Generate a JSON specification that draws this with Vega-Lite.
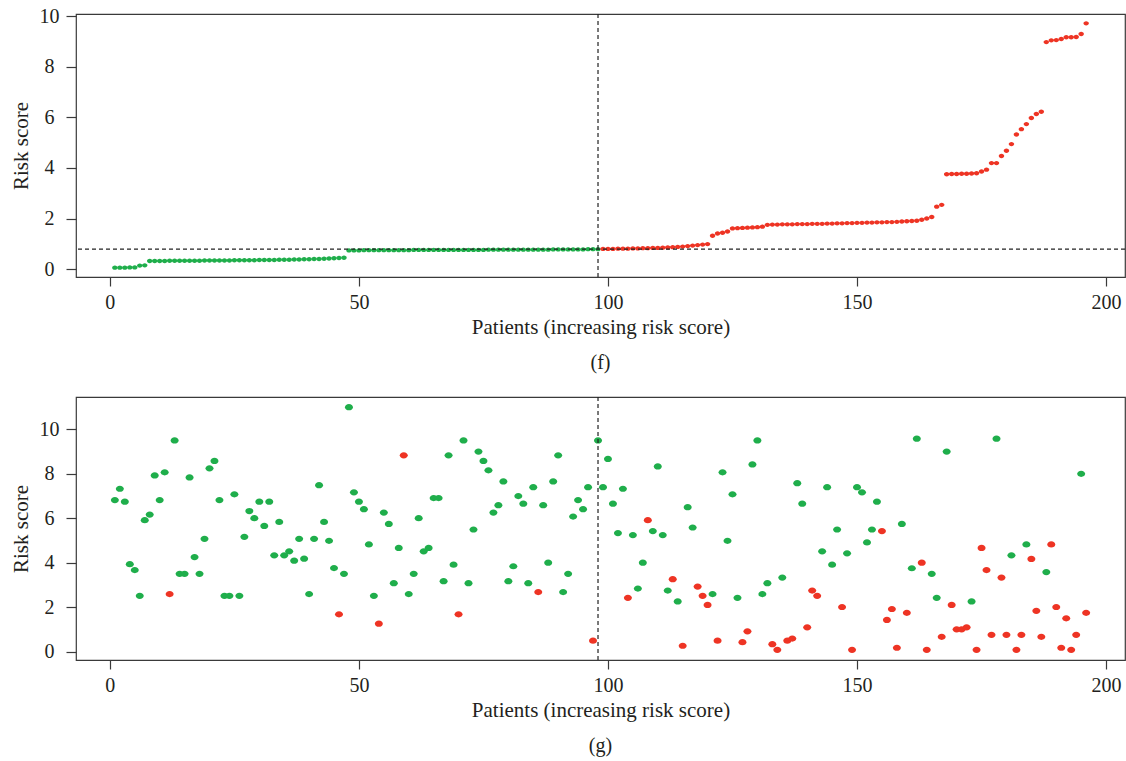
{
  "$schema": "https://vega.github.io/schema/vega-lite/v6.json",
  "padding": {"left": 9, "top": 5, "right": 0, "bottom": 0},
  "spacing": 21,
  "datasets": {
    "sorted": [
      {"i":1,"v":0.06,"g":"low"},{"i":2,"v":0.06,"g":"low"},{"i":3,"v":0.06,"g":"low"},{"i":4,"v":0.07,"g":"low"},{"i":5,"v":0.07,"g":"low"},{"i":6,"v":0.14,"g":"low"},{"i":7,"v":0.15,"g":"low"},
      {"i":8,"v":0.32,"g":"low"},{"i":9,"v":0.32,"g":"low"},{"i":10,"v":0.32,"g":"low"},{"i":11,"v":0.32,"g":"low"},{"i":12,"v":0.33,"g":"low"},{"i":13,"v":0.33,"g":"low"},{"i":14,"v":0.33,"g":"low"},{"i":15,"v":0.33,"g":"low"},{"i":16,"v":0.33,"g":"low"},{"i":17,"v":0.33,"g":"low"},{"i":18,"v":0.33,"g":"low"},{"i":19,"v":0.34,"g":"low"},{"i":20,"v":0.34,"g":"low"},
      {"i":21,"v":0.34,"g":"low"},{"i":22,"v":0.34,"g":"low"},{"i":23,"v":0.34,"g":"low"},{"i":24,"v":0.34,"g":"low"},{"i":25,"v":0.35,"g":"low"},{"i":26,"v":0.35,"g":"low"},{"i":27,"v":0.35,"g":"low"},{"i":28,"v":0.35,"g":"low"},{"i":29,"v":0.35,"g":"low"},{"i":30,"v":0.36,"g":"low"},
      {"i":31,"v":0.36,"g":"low"},{"i":32,"v":0.36,"g":"low"},{"i":33,"v":0.36,"g":"low"},{"i":34,"v":0.37,"g":"low"},{"i":35,"v":0.37,"g":"low"},{"i":36,"v":0.37,"g":"low"},{"i":37,"v":0.38,"g":"low"},{"i":38,"v":0.38,"g":"low"},{"i":39,"v":0.39,"g":"low"},{"i":40,"v":0.39,"g":"low"},
      {"i":41,"v":0.40,"g":"low"},{"i":42,"v":0.40,"g":"low"},{"i":43,"v":0.41,"g":"low"},{"i":44,"v":0.42,"g":"low"},{"i":45,"v":0.43,"g":"low"},{"i":46,"v":0.44,"g":"low"},{"i":47,"v":0.45,"g":"low"},
      {"i":48,"v":0.74,"g":"low"},{"i":49,"v":0.74,"g":"low"},{"i":50,"v":0.74,"g":"low"},
      {"i":51,"v":0.75,"g":"low"},{"i":52,"v":0.75,"g":"low"},{"i":53,"v":0.75,"g":"low"},{"i":54,"v":0.75,"g":"low"},{"i":55,"v":0.75,"g":"low"},{"i":56,"v":0.75,"g":"low"},{"i":57,"v":0.75,"g":"low"},{"i":58,"v":0.75,"g":"low"},{"i":59,"v":0.75,"g":"low"},{"i":60,"v":0.75,"g":"low"},
      {"i":61,"v":0.76,"g":"low"},{"i":62,"v":0.76,"g":"low"},{"i":63,"v":0.76,"g":"low"},{"i":64,"v":0.76,"g":"low"},{"i":65,"v":0.76,"g":"low"},{"i":66,"v":0.76,"g":"low"},{"i":67,"v":0.76,"g":"low"},{"i":68,"v":0.76,"g":"low"},{"i":69,"v":0.76,"g":"low"},{"i":70,"v":0.76,"g":"low"},
      {"i":71,"v":0.76,"g":"low"},{"i":72,"v":0.76,"g":"low"},{"i":73,"v":0.76,"g":"low"},{"i":74,"v":0.76,"g":"low"},{"i":75,"v":0.76,"g":"low"},{"i":76,"v":0.77,"g":"low"},{"i":77,"v":0.77,"g":"low"},{"i":78,"v":0.77,"g":"low"},{"i":79,"v":0.77,"g":"low"},{"i":80,"v":0.77,"g":"low"},
      {"i":81,"v":0.77,"g":"low"},{"i":82,"v":0.77,"g":"low"},{"i":83,"v":0.77,"g":"low"},{"i":84,"v":0.77,"g":"low"},{"i":85,"v":0.77,"g":"low"},{"i":86,"v":0.77,"g":"low"},{"i":87,"v":0.77,"g":"low"},{"i":88,"v":0.77,"g":"low"},{"i":89,"v":0.78,"g":"low"},{"i":90,"v":0.78,"g":"low"},
      {"i":91,"v":0.78,"g":"low"},{"i":92,"v":0.78,"g":"low"},{"i":93,"v":0.78,"g":"low"},{"i":94,"v":0.78,"g":"low"},{"i":95,"v":0.78,"g":"low"},{"i":96,"v":0.79,"g":"low"},{"i":97,"v":0.79,"g":"low"},{"i":98,"v":0.79,"g":"low"},
      {"i":99,"v":0.80,"g":"high"},{"i":100,"v":0.80,"g":"high"},{"i":101,"v":0.80,"g":"high"},{"i":102,"v":0.81,"g":"high"},{"i":103,"v":0.81,"g":"high"},{"i":104,"v":0.81,"g":"high"},{"i":105,"v":0.82,"g":"high"},{"i":106,"v":0.82,"g":"high"},{"i":107,"v":0.83,"g":"high"},{"i":108,"v":0.83,"g":"high"},{"i":109,"v":0.84,"g":"high"},{"i":110,"v":0.84,"g":"high"},
      {"i":111,"v":0.85,"g":"high"},{"i":112,"v":0.86,"g":"high"},{"i":113,"v":0.87,"g":"high"},{"i":114,"v":0.88,"g":"high"},{"i":115,"v":0.89,"g":"high"},{"i":116,"v":0.91,"g":"high"},{"i":117,"v":0.93,"g":"high"},{"i":118,"v":0.95,"g":"high"},{"i":119,"v":0.97,"g":"high"},{"i":120,"v":0.99,"g":"high"},
      {"i":121,"v":1.32,"g":"high"},{"i":122,"v":1.41,"g":"high"},{"i":123,"v":1.44,"g":"high"},{"i":124,"v":1.49,"g":"high"},{"i":125,"v":1.61,"g":"high"},{"i":126,"v":1.62,"g":"high"},{"i":127,"v":1.63,"g":"high"},{"i":128,"v":1.64,"g":"high"},{"i":129,"v":1.65,"g":"high"},{"i":130,"v":1.66,"g":"high"},{"i":131,"v":1.68,"g":"high"},
      {"i":132,"v":1.75,"g":"high"},{"i":133,"v":1.76,"g":"high"},{"i":134,"v":1.76,"g":"high"},{"i":135,"v":1.77,"g":"high"},{"i":136,"v":1.77,"g":"high"},{"i":137,"v":1.77,"g":"high"},{"i":138,"v":1.78,"g":"high"},{"i":139,"v":1.78,"g":"high"},{"i":140,"v":1.78,"g":"high"},
      {"i":141,"v":1.79,"g":"high"},{"i":142,"v":1.79,"g":"high"},{"i":143,"v":1.79,"g":"high"},{"i":144,"v":1.80,"g":"high"},{"i":145,"v":1.80,"g":"high"},{"i":146,"v":1.81,"g":"high"},{"i":147,"v":1.81,"g":"high"},{"i":148,"v":1.82,"g":"high"},{"i":149,"v":1.82,"g":"high"},{"i":150,"v":1.83,"g":"high"},
      {"i":151,"v":1.83,"g":"high"},{"i":152,"v":1.84,"g":"high"},{"i":153,"v":1.84,"g":"high"},{"i":154,"v":1.85,"g":"high"},{"i":155,"v":1.85,"g":"high"},{"i":156,"v":1.86,"g":"high"},{"i":157,"v":1.86,"g":"high"},{"i":158,"v":1.87,"g":"high"},{"i":159,"v":1.88,"g":"high"},{"i":160,"v":1.89,"g":"high"},
      {"i":161,"v":1.90,"g":"high"},{"i":162,"v":1.91,"g":"high"},{"i":163,"v":1.95,"g":"high"},{"i":164,"v":2.00,"g":"high"},{"i":165,"v":2.06,"g":"high"},{"i":166,"v":2.47,"g":"high"},{"i":167,"v":2.54,"g":"high"},
      {"i":168,"v":3.75,"g":"high"},{"i":169,"v":3.76,"g":"high"},{"i":170,"v":3.76,"g":"high"},{"i":171,"v":3.77,"g":"high"},{"i":172,"v":3.77,"g":"high"},{"i":173,"v":3.78,"g":"high"},{"i":174,"v":3.79,"g":"high"},{"i":175,"v":3.86,"g":"high"},{"i":176,"v":3.93,"g":"high"},{"i":177,"v":4.19,"g":"high"},{"i":178,"v":4.19,"g":"high"},
      {"i":179,"v":4.47,"g":"high"},{"i":180,"v":4.68,"g":"high"},{"i":181,"v":4.94,"g":"high"},{"i":182,"v":5.32,"g":"high"},{"i":183,"v":5.53,"g":"high"},{"i":184,"v":5.73,"g":"high"},{"i":185,"v":5.97,"g":"high"},{"i":186,"v":6.13,"g":"high"},{"i":187,"v":6.22,"g":"high"},
      {"i":188,"v":8.97,"g":"high"},{"i":189,"v":9.04,"g":"high"},{"i":190,"v":9.05,"g":"high"},{"i":191,"v":9.09,"g":"high"},{"i":192,"v":9.16,"g":"high"},{"i":193,"v":9.16,"g":"high"},{"i":194,"v":9.17,"g":"high"},{"i":195,"v":9.29,"g":"high"},{"i":196,"v":9.71,"g":"high"}
    ],
    "scatter": [
      {"i":1,"v":6.81,"s":"Alive"},{"i":2,"v":7.32,"s":"Alive"},{"i":3,"v":6.74,"s":"Alive"},{"i":4,"v":3.93,"s":"Alive"},{"i":5,"v":3.67,"s":"Alive"},{"i":6,"v":2.51,"s":"Alive"},{"i":7,"v":5.91,"s":"Alive"},{"i":8,"v":6.16,"s":"Alive"},{"i":9,"v":7.92,"s":"Alive"},{"i":10,"v":6.81,"s":"Alive"},
      {"i":11,"v":8.06,"s":"Alive"},{"i":12,"v":2.59,"s":"Dead"},{"i":13,"v":9.49,"s":"Alive"},{"i":14,"v":3.50,"s":"Alive"},{"i":15,"v":3.50,"s":"Alive"},{"i":16,"v":7.83,"s":"Alive"},{"i":17,"v":4.25,"s":"Alive"},{"i":18,"v":3.50,"s":"Alive"},{"i":19,"v":5.07,"s":"Alive"},{"i":20,"v":8.24,"s":"Alive"},
      {"i":21,"v":8.57,"s":"Alive"},{"i":22,"v":6.81,"s":"Alive"},{"i":23,"v":2.51,"s":"Alive"},{"i":24,"v":2.51,"s":"Alive"},{"i":25,"v":7.07,"s":"Alive"},{"i":26,"v":2.51,"s":"Alive"},{"i":27,"v":5.16,"s":"Alive"},{"i":28,"v":6.32,"s":"Alive"},{"i":29,"v":6.00,"s":"Alive"},{"i":30,"v":6.74,"s":"Alive"},
      {"i":31,"v":5.65,"s":"Alive"},{"i":32,"v":6.74,"s":"Alive"},{"i":33,"v":4.33,"s":"Alive"},{"i":34,"v":5.83,"s":"Alive"},{"i":35,"v":4.33,"s":"Alive"},{"i":36,"v":4.51,"s":"Alive"},{"i":37,"v":4.09,"s":"Alive"},{"i":38,"v":5.07,"s":"Alive"},{"i":39,"v":4.18,"s":"Alive"},{"i":40,"v":2.59,"s":"Alive"},
      {"i":41,"v":5.07,"s":"Alive"},{"i":42,"v":7.48,"s":"Alive"},{"i":43,"v":5.83,"s":"Alive"},{"i":44,"v":4.98,"s":"Alive"},{"i":45,"v":3.76,"s":"Alive"},{"i":46,"v":1.68,"s":"Dead"},{"i":47,"v":3.50,"s":"Alive"},{"i":48,"v":10.98,"s":"Alive"},{"i":49,"v":7.16,"s":"Alive"},{"i":50,"v":6.74,"s":"Alive"},
      {"i":51,"v":6.40,"s":"Alive"},{"i":52,"v":4.82,"s":"Alive"},{"i":53,"v":2.51,"s":"Alive"},{"i":54,"v":1.26,"s":"Dead"},{"i":55,"v":6.25,"s":"Alive"},{"i":56,"v":5.74,"s":"Alive"},{"i":57,"v":3.08,"s":"Alive"},{"i":58,"v":4.66,"s":"Alive"},{"i":59,"v":8.82,"s":"Dead"},{"i":60,"v":2.59,"s":"Alive"},
      {"i":61,"v":3.50,"s":"Alive"},{"i":62,"v":6.00,"s":"Alive"},{"i":63,"v":4.51,"s":"Alive"},{"i":64,"v":4.66,"s":"Alive"},{"i":65,"v":6.90,"s":"Alive"},{"i":66,"v":6.90,"s":"Alive"},{"i":67,"v":3.17,"s":"Alive"},{"i":68,"v":8.82,"s":"Alive"},{"i":69,"v":3.91,"s":"Alive"},{"i":70,"v":1.68,"s":"Dead"},
      {"i":71,"v":9.49,"s":"Alive"},{"i":72,"v":3.08,"s":"Alive"},{"i":73,"v":5.49,"s":"Alive"},{"i":74,"v":8.99,"s":"Alive"},{"i":75,"v":8.57,"s":"Alive"},{"i":76,"v":8.15,"s":"Alive"},{"i":77,"v":6.25,"s":"Alive"},{"i":78,"v":6.58,"s":"Alive"},{"i":79,"v":7.65,"s":"Alive"},{"i":80,"v":3.17,"s":"Alive"},
      {"i":81,"v":3.84,"s":"Alive"},{"i":82,"v":6.99,"s":"Alive"},{"i":83,"v":6.65,"s":"Alive"},{"i":84,"v":3.08,"s":"Alive"},{"i":85,"v":7.39,"s":"Alive"},{"i":86,"v":2.68,"s":"Dead"},{"i":87,"v":6.58,"s":"Alive"},{"i":88,"v":4.00,"s":"Alive"},{"i":89,"v":7.65,"s":"Alive"},{"i":90,"v":8.82,"s":"Alive"},
      {"i":91,"v":2.68,"s":"Alive"},{"i":92,"v":3.50,"s":"Alive"},{"i":93,"v":6.07,"s":"Alive"},{"i":94,"v":6.81,"s":"Alive"},{"i":95,"v":6.40,"s":"Alive"},{"i":96,"v":7.39,"s":"Alive"},{"i":97,"v":0.50,"s":"Dead"},{"i":98,"v":9.49,"s":"Alive"},{"i":99,"v":7.39,"s":"Alive"},{"i":100,"v":8.66,"s":"Alive"},
      {"i":101,"v":6.65,"s":"Alive"},{"i":102,"v":5.33,"s":"Alive"},{"i":103,"v":7.32,"s":"Alive"},{"i":104,"v":2.42,"s":"Dead"},{"i":105,"v":5.24,"s":"Alive"},{"i":106,"v":2.84,"s":"Alive"},{"i":107,"v":4.00,"s":"Alive"},{"i":108,"v":5.91,"s":"Dead"},{"i":109,"v":5.42,"s":"Alive"},{"i":110,"v":8.32,"s":"Alive"},
      {"i":111,"v":5.24,"s":"Alive"},{"i":112,"v":2.75,"s":"Alive"},{"i":113,"v":3.26,"s":"Dead"},{"i":114,"v":2.26,"s":"Alive"},{"i":115,"v":0.27,"s":"Dead"},{"i":116,"v":6.49,"s":"Alive"},{"i":117,"v":5.58,"s":"Alive"},{"i":118,"v":2.93,"s":"Dead"},{"i":119,"v":2.51,"s":"Dead"},{"i":120,"v":2.10,"s":"Dead"},
      {"i":121,"v":2.59,"s":"Alive"},{"i":122,"v":0.50,"s":"Dead"},{"i":123,"v":8.06,"s":"Alive"},{"i":124,"v":4.98,"s":"Alive"},{"i":125,"v":7.07,"s":"Alive"},{"i":126,"v":2.42,"s":"Alive"},{"i":127,"v":0.43,"s":"Dead"},{"i":128,"v":0.92,"s":"Dead"},{"i":129,"v":8.41,"s":"Alive"},{"i":130,"v":9.49,"s":"Alive"},
      {"i":131,"v":2.59,"s":"Alive"},{"i":132,"v":3.08,"s":"Alive"},{"i":133,"v":0.34,"s":"Dead"},{"i":134,"v":0.09,"s":"Dead"},{"i":135,"v":3.33,"s":"Alive"},{"i":136,"v":0.50,"s":"Dead"},{"i":137,"v":0.59,"s":"Dead"},{"i":138,"v":7.57,"s":"Alive"},{"i":139,"v":6.65,"s":"Alive"},{"i":140,"v":1.10,"s":"Dead"},
      {"i":141,"v":2.75,"s":"Dead"},{"i":142,"v":2.51,"s":"Dead"},{"i":143,"v":4.51,"s":"Alive"},{"i":144,"v":7.39,"s":"Alive"},{"i":145,"v":3.91,"s":"Alive"},{"i":146,"v":5.49,"s":"Alive"},{"i":147,"v":2.01,"s":"Dead"},{"i":148,"v":4.42,"s":"Alive"},{"i":149,"v":0.09,"s":"Dead"},{"i":150,"v":7.39,"s":"Alive"},
      {"i":151,"v":7.16,"s":"Alive"},{"i":152,"v":4.91,"s":"Alive"},{"i":153,"v":5.49,"s":"Alive"},{"i":154,"v":6.74,"s":"Alive"},{"i":155,"v":5.42,"s":"Dead"},{"i":156,"v":1.43,"s":"Dead"},{"i":157,"v":1.92,"s":"Dead"},{"i":158,"v":0.18,"s":"Dead"},{"i":159,"v":5.74,"s":"Alive"},{"i":160,"v":1.75,"s":"Dead"},
      {"i":161,"v":3.75,"s":"Alive"},{"i":162,"v":9.57,"s":"Alive"},{"i":163,"v":4.00,"s":"Dead"},{"i":164,"v":0.09,"s":"Dead"},{"i":165,"v":3.50,"s":"Alive"},{"i":166,"v":2.42,"s":"Alive"},{"i":167,"v":0.67,"s":"Dead"},{"i":168,"v":8.99,"s":"Alive"},{"i":169,"v":2.10,"s":"Dead"},{"i":170,"v":1.01,"s":"Dead"},
      {"i":171,"v":1.01,"s":"Dead"},{"i":172,"v":1.10,"s":"Dead"},{"i":173,"v":2.26,"s":"Alive"},{"i":174,"v":0.09,"s":"Dead"},{"i":175,"v":4.66,"s":"Dead"},{"i":176,"v":3.67,"s":"Dead"},{"i":177,"v":0.76,"s":"Dead"},{"i":178,"v":9.57,"s":"Alive"},{"i":179,"v":3.33,"s":"Dead"},{"i":180,"v":0.76,"s":"Dead"},
      {"i":181,"v":4.33,"s":"Alive"},{"i":182,"v":0.09,"s":"Dead"},{"i":183,"v":0.76,"s":"Dead"},{"i":184,"v":4.82,"s":"Alive"},{"i":185,"v":4.17,"s":"Dead"},{"i":186,"v":1.84,"s":"Dead"},{"i":187,"v":0.67,"s":"Dead"},{"i":188,"v":3.58,"s":"Alive"},{"i":189,"v":4.82,"s":"Dead"},{"i":190,"v":2.01,"s":"Dead"},
      {"i":191,"v":0.18,"s":"Dead"},{"i":192,"v":1.50,"s":"Dead"},{"i":193,"v":0.09,"s":"Dead"},{"i":194,"v":0.76,"s":"Dead"},{"i":195,"v":7.99,"s":"Alive"},{"i":196,"v":1.75,"s":"Dead"}
    ]
  },
  "config": {
    "font": "Liberation Serif",
    "view": {"stroke": "#3a3a3a", "strokeWidth": 1.2},
    "axis": {
      "domain": false, "grid": false,
      "tickColor": "#3a3a3a", "tickWidth": 1.2, "tickSize": 10,
      "labelFont": "Liberation Serif", "labelFontSize": 20, "labelColor": "#231f20", "labelFlush": false,
      "titleFont": "Liberation Serif", "titleFontSize": 21, "titleFontWeight": "normal", "titleColor": "#231f20"
    },
    "axisY": {"labelAlign": "center", "labelBaseline": "middle", "labelPadding": 17, "titlePadding": 8},
    "axisX": {"tickSize": 9, "labelPadding": 6, "titlePadding": 4},
    "title": {"font": "Liberation Serif", "fontSize": 20, "fontWeight": "normal", "color": "#231f20", "orient": "bottom", "anchor": "middle", "offset": 16},
    "legend": {"disable": true}
  },
  "vconcat": [
    {
      "width": 1049, "height": 263,
      "title": {"text": "(f)"},
      "layer": [
        {
          "data": {"name": "sorted"},
          "mark": {"type": "point", "filled": true, "opacity": 1, "size": 30, "shape": "M-1,0A1,0.8 0 1,0 1,0A1,0.8 0 1,0 -1,0Z"},
          "encoding": {
            "x": {"field": "i", "type": "quantitative", "scale": {"domain": [-6.8, 203.8], "nice": false, "zero": false}, "axis": {"values": [0, 50, 100, 150, 200], "title": "Patients (increasing risk score)"}},
            "y": {"field": "v", "type": "quantitative", "scale": {"domain": [-0.31, 10.08], "nice": false, "zero": false}, "axis": {"values": [0, 2, 4, 6, 8, 10], "title": "Risk score"}},
            "color": {"field": "g", "type": "nominal", "scale": {"domain": ["low", "high"], "range": ["#1fae4b", "#ee3424"]}}
          }
        },
        {
          "data": {"values": [{}]},
          "mark": {"type": "rule", "strokeDash": [4, 3], "color": "#222", "strokeWidth": 1.2},
          "encoding": {"y": {"datum": 0.79}}
        },
        {
          "data": {"values": [{}]},
          "mark": {"type": "rule", "strokeDash": [4, 3], "color": "#222", "strokeWidth": 1.2},
          "encoding": {"x": {"datum": 98}}
        }
      ]
    },
    {
      "width": 1049, "height": 263,
      "title": {"text": "(g)"},
      "layer": [
        {
          "data": {"name": "scatter"},
          "mark": {"type": "point", "filled": true, "opacity": 1, "size": 64, "shape": "M-1,0A1,0.78 0 1,0 1,0A1,0.78 0 1,0 -1,0Z"},
          "encoding": {
            "x": {"field": "i", "type": "quantitative", "scale": {"domain": [-6.8, 203.8], "nice": false, "zero": false}, "axis": {"values": [0, 50, 100, 150, 200], "title": "Patients (increasing risk score)"}},
            "y": {"field": "v", "type": "quantitative", "scale": {"domain": [-0.37, 11.44], "nice": false, "zero": false}, "axis": {"values": [0, 2, 4, 6, 8, 10], "title": "Risk score"}},
            "color": {"field": "s", "type": "nominal", "scale": {"domain": ["Alive", "Dead"], "range": ["#1fae4b", "#ee3424"]}}
          }
        },
        {
          "data": {"values": [{}]},
          "mark": {"type": "rule", "strokeDash": [4, 3], "color": "#222", "strokeWidth": 1.2},
          "encoding": {"x": {"datum": 98}}
        }
      ]
    }
  ]
}
